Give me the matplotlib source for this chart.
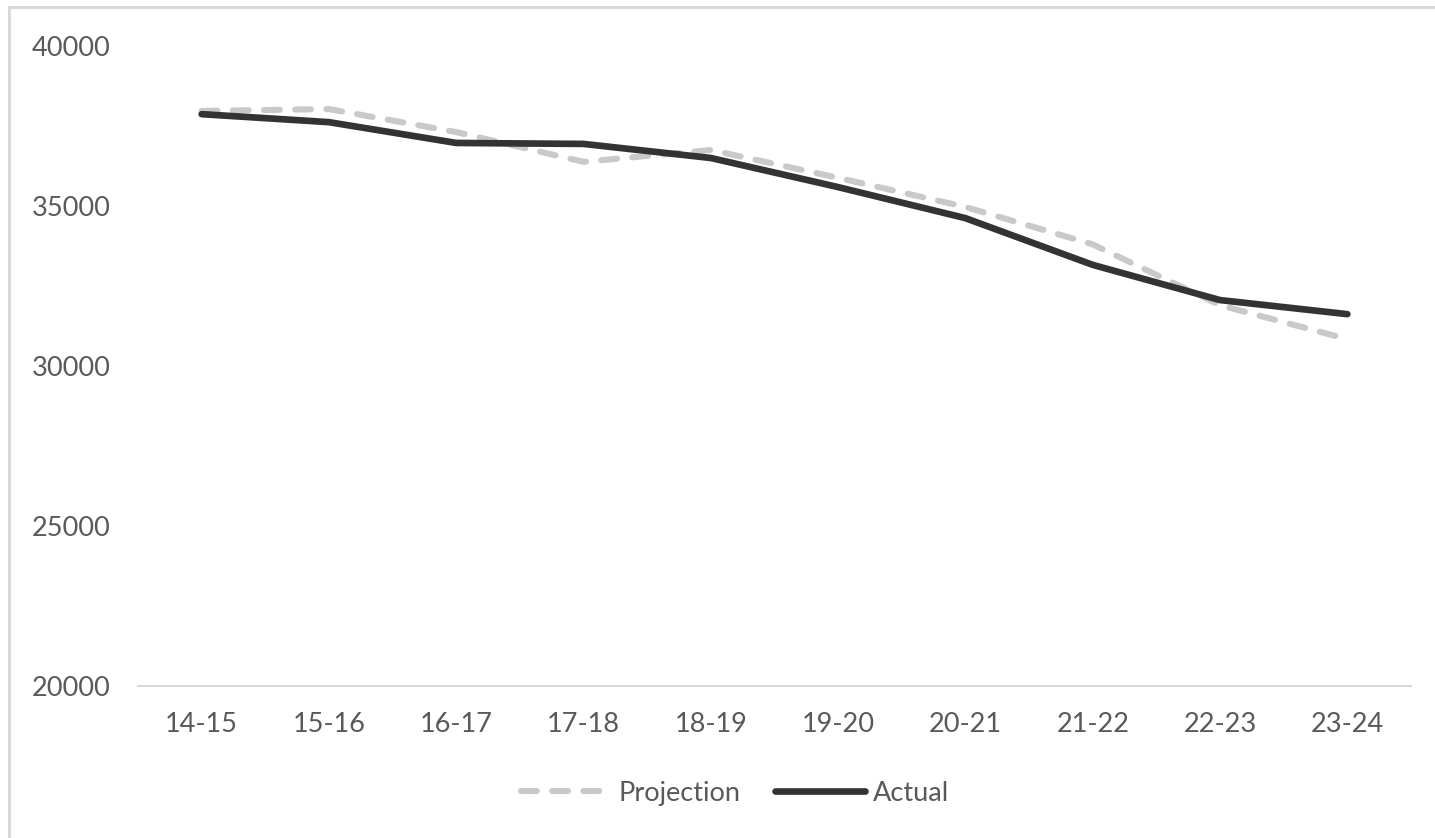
import matplotlib
matplotlib.use('Agg')
import matplotlib.pyplot as plt
from matplotlib.patches import Rectangle

# school years on the x axis
years = ['14-15', '15-16', '16-17', '17-18', '18-19',
         '19-20', '20-21', '21-22', '22-23', '23-24']

# values
projection = [37970, 38030, 37310, 36380, 36750, 35880, 34970, 33800, 31900, 30840]
actual = [37870, 37620, 36970, 36940, 36500, 35590, 34620, 33160, 32060, 31620]

yticks = [20000, 25000, 30000, 35000, 40000]

TEXT = '#595959'

plt.rcParams['font.family'] = ['Lato', 'DejaVu Sans']

fig = plt.figure(figsize=(14.35, 8.38), dpi=100)
ax = fig.add_axes([138 / 1435, 1 - 686 / 838, (1411 - 138) / 1435, (686 - 46) / 838])

x = list(range(len(years)))
ax.plot(x, projection, color='#c9c9c9', lw=4.4, dashes=(2.6, 2.5),
        dash_capstyle='round', solid_joinstyle='round', label='Projection')
ax.plot(x, actual, color='#333333', lw=4.8, solid_capstyle='round',
        solid_joinstyle='round', label='Actual')

ax.set_xlim(-0.5, len(years) - 0.5)
ax.set_ylim(20000, 40000)
ax.set_xticks(x)
ax.set_xticklabels(years)
ax.set_yticks(yticks)
ax.tick_params(axis='both', length=0, labelsize=19.5, labelcolor=TEXT)
ax.tick_params(axis='x', pad=19)
ax.tick_params(axis='y', pad=20)

for side in ['top', 'right', 'left']:
    ax.spines[side].set_visible(False)
ax.spines['bottom'].set_color('#d9d9d9')
ax.spines['bottom'].set_linewidth(1.5)

leg = ax.legend(loc='center', bbox_to_anchor=((735 - 138) / 1273, -(793 - 686) / 640),
                ncol=2, frameon=False, fontsize=19.5, handlelength=3.3,
                handletextpad=0.3, columnspacing=1.3)
for t in leg.get_texts():
    t.set_color(TEXT)

# light frame round the chart (left and top edges show in the picture)
fig.patches.append(Rectangle((9 / 1435, -0.1), 1.2, 1.1 - 7.5 / 838,
                             transform=fig.transFigure, fill=False,
                             edgecolor='#d9d9d9', lw=2.2))

fig.savefig('out.png', dpi=100)
